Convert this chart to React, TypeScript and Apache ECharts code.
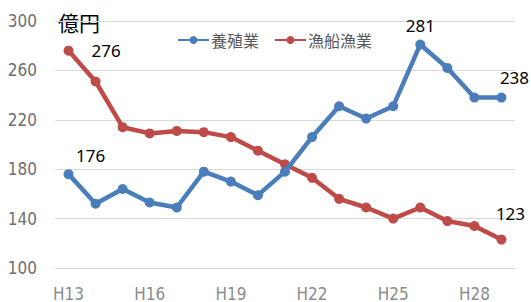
import React, { useEffect, useRef } from "react";
import * as echarts from "echarts";

const categories = ["H13","H14","H15","H16","H17","H18","H19","H20","H21","H22","H23","H24","H25","H26","H27","H28","H29"];
const aquaculture = [176, 152, 164, 153, 149, 178, 170, 159, 178, 206, 231, 221, 231, 281, 262, 238, 238];
const fishing = [276, 251, 214, 209, 211, 210, 206, 195, 184, 173, 156, 149, 140, 149, 138, 134, 123];
const yTicks = { min: 100, max: 300, interval: 40 };
const unitLabel = "億円";
const seriesNames = ["養殖業", "漁船漁業"];

const BLUE = "#4A7EBB";
const RED = "#BE4B48";
const NARROW = "'Liberation Sans Narrow', 'DejaVu Sans Condensed', 'Liberation Sans', sans-serif";
const LABEL_FONT = "'Noto Sans', 'Open Sans', sans-serif";

function labelled(values: number[], labels: Record<number, any>) {
  return values.map((v, i) =>
    labels[i]
      ? {
          value: v,
          label: {
            show: true,
            fontSize: 17,
            color: "#000",
            fontFamily: LABEL_FONT,
            ...labels[i],
          },
        }
      : v
  );
}

export default function App() {
  const ref = useRef<HTMLDivElement>(null);
  useEffect(() => {
    if (!ref.current) return;
    const chart = echarts.init(ref.current, undefined, { renderer: "svg" });
    const last = categories.length - 1;
    chart.setOption({
      animation: false,
      grid: { left: 55, right: 16, top: 21, bottom: 30 },
      legend: {
        left: 177,
        top: 32,
        padding: 0,
        itemWidth: 31,
        itemHeight: 10,
        itemGap: 15,
        textStyle: { fontSize: 16, color: "#595959", fontFamily: "'Noto Sans CJK JP', sans-serif", padding: [0, 0, 0, -3] },
        data: seriesNames,
      },
      graphic: [
        {
          type: "text",
          left: 58,
          top: 11,
          style: { text: unitLabel, fontSize: 21, fill: "#000", fontFamily: "'Noto Sans CJK JP', sans-serif" },
        },
      ],
      xAxis: {
        type: "category",
        data: categories,
        boundaryGap: true,
        axisLine: { show: false },
        axisTick: { show: false },
        axisLabel: { interval: 2, margin: 17, fontSize: 17, color: "#8c8c8c", fontFamily: NARROW },
      },
      yAxis: {
        type: "value",
        min: yTicks.min,
        max: yTicks.max,
        interval: yTicks.interval,
        axisLine: { show: false },
        axisTick: { show: false },
        splitLine: { lineStyle: { color: "#d9d9d9", width: 1 } },
        axisLabel: { margin: 18, fontSize: 17, color: "#6e6e6e", fontFamily: NARROW },
      },
      series: [
        {
          name: seriesNames[0],
          type: "line",
          data: labelled(aquaculture, {
            0: { position: "top", offset: [22, 0] },
            13: { position: "top", offset: [0, 0] },
            [last]: { position: "top", offset: [13, -2] },
          }),
          color: BLUE,
          lineStyle: { width: 4.5, color: BLUE },
          symbol: "circle",
          symbolSize: 10,
          itemStyle: { color: BLUE },
          z: 3,
        },
        {
          name: seriesNames[1],
          type: "line",
          data: labelled(fishing, {
            0: { position: "right", distance: 18 },
            [last]: { position: "top", offset: [9, -8] },
          }),
          color: RED,
          lineStyle: { width: 4.5, color: RED },
          symbol: "circle",
          symbolSize: 10,
          itemStyle: { color: RED },
          z: 2,
        },
      ],
    });
    return () => chart.dispose();
  }, []);
  return <div ref={ref} style={{ position: "fixed", left: 0, top: 0, width: 531, height: 302, background: "#fff" }} />;
}
